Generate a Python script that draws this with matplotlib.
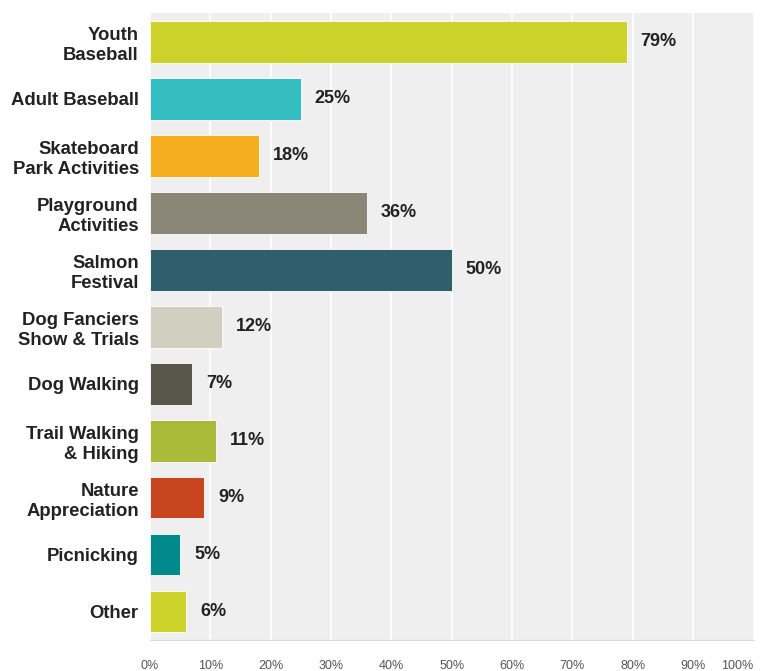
import numpy as np
import matplotlib.pyplot as plt

categories = ["Youth\nBaseball", "Adult Baseball", "Skateboard\nPark Activities",
              "Playground\nActivities", "Salmon\nFestival", "Dog Fanciers\nShow & Trials",
              "Dog Walking", "Trail Walking\n& Hiking", "Nature\nAppreciation",
              "Picnicking", "Other"]
values = [79, 25, 18, 36, 50, 12, 7, 11, 9, 5, 6]
colours = ["#cdd22a", "#35bec1", "#f5ae20", "#8a8778", "#2f5e6d", "#d1cfc0",
           "#58574a", "#a9bc3a", "#c9451f", "#00898a", "#cdd22a"]
ticks = np.arange(0, 101, 10)

plt.rcParams["font.family"] = ["Liberation Sans", "DejaVu Sans"]

fig = plt.figure(figsize=(7.65, 6.71), dpi=100)
ax = fig.add_axes([0.196, 0.046, 0.789, 0.934])
ax.set_facecolor("#efefef")

y = np.arange(len(categories))
ax.barh(y, values, height=0.73, color=colours, edgecolor="white", linewidth=0.6, zorder=3)

for yi, v in zip(y, values):
    ax.text(v + 2.3, yi, f"{v}%", va="center", ha="left", fontsize=13,
            fontweight="bold", color="#222222", zorder=4)

ax.set_xlim(0, 100)
ax.set_ylim(len(categories) - 0.5, -0.5)
ax.set_yticks(y)
ax.set_yticklabels(categories, fontsize=13.3, fontweight="bold", color="#222222",
                   linespacing=1.25)
ax.set_xticks(ticks)
ax.set_xticklabels([f"{t}%" for t in ticks], fontsize=9, color="#555555")
ax.get_xticklabels()[-1].set_horizontalalignment("right")
ax.tick_params(axis="both", length=0)
ax.tick_params(axis="x", pad=14)
ax.tick_params(axis="y", pad=8)

ax.grid(axis="x", color="white", linewidth=1.2, zorder=1)
ax.set_axisbelow(True)
for side in ["top", "right", "left"]:
    ax.spines[side].set_visible(False)
ax.spines["bottom"].set_color("#dcdcdc")

plt.savefig("out.png", dpi=100)
